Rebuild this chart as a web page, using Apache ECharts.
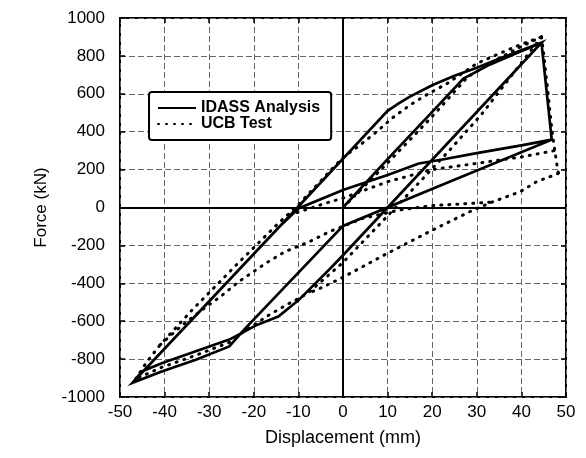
<!DOCTYPE html>
<html>
<head>
<meta charset="utf-8">
<script src="https://cdn.jsdelivr.net/npm/echarts@6/dist/echarts.min.js"></script>
<style>
  html, body { margin: 0; padding: 0; background: #fff; }
  #chart { width: 586px; height: 458px; }
</style>
</head>
<body>
<div id="chart"></div>
<script>
// Axis ranges and tick labels
const xTickLabels = [-50, -40, -30, -20, -10, 0, 10, 20, 30, 40, 50];
const yTickLabels = [-1000, -800, -600, -400, -200, 0, 200, 400, 600, 800, 1000];

// IDASS analysis: successive branches of the force-displacement path [mm, kN]
const idassFirstLoading = [[0, 0], [10, 255], [20, 505], [27, 680], [33, 755], [39, 815], [44.5, 870]];
const idassFirstUnloading = [[44.5, 870], [10, 0], [0, -252], [-3, -325], [-10, -490], [-14.5, -575],
  [-19.5, -622], [-25.5, -697], [-33, -759], [-40.5, -820], [-45, -864], [-47.2, -925]];
const idassReloading = [[-47.2, -925], [-10.2, 0], [10, 510], [12.5, 550], [15, 585], [20, 645],
  [25, 695], [30, 737], [35, 785], [40, 830], [44.5, 870]];
const idassStrengthDrop = [[44.5, 870], [46.8, 358]];
const idassSecondUnloading = [[46.8, 358], [19.4, 92], [0, -97], [-21.8, -635], [-25.5, -733],
  [-33, -803], [-40.5, -864], [-47.2, -925]];
const idassSecondReloading = [[-47.2, -925], [-14, -95], [-10, -5], [0, 92], [10, 172], [17, 232],
  [22, 252], [30, 287], [40, 328], [46.8, 358]];

// UCB test: measured branches [mm, kN]
const ucbFirstLoading = [[0, 0], [10, 235], [20, 480], [28, 690], [34, 775], [40, 850], [44.5, 900]];
const ucbFirstUnloading = [[44.5, 900], [31, 490], [24, 305], [12, 5], [0, -290], [-8, -455],
  [-12, -505], [-16.5, -566], [-19, -605], [-22, -650], [-25.5, -712], [-33, -780], [-40.5, -842], [-46.5, -905]];
const ucbReloading = [[-46.5, -905], [-44, -815], [-41, -725], [-34, -545], [-24, -305], [-15, -95],
  [-10, 15], [-5, 140], [0, 265], [3.3, 320], [7.1, 391], [11.2, 475], [15.3, 545], [19.4, 604],
  [23.2, 652], [27, 712], [30, 760], [35, 812], [40, 862], [44.5, 900]];
const ucbStrengthDrop = [[44.5, 900], [45, 810], [45.5, 700], [46, 600], [46.5, 480], [47, 380],
  [47.5, 300], [48, 220], [48.3, 180]];
const ucbSecondUnloading = [[48.3, 180], [43.4, 136], [39.7, 83], [33.7, 31], [29.2, -13], [19.4, -127],
  [9.3, -250], [-0.4, -373], [-4.5, -420], [-8, -455]];
const ucbUpperReloading = [[-12, -40], [-4, 22], [0, 50], [10, 136], [20, 200], [30, 233], [40, 267], [47.3, 300]];
const ucbLowerReloading = [[-41, -725], [-36, -620], [-31, -530], [-27.4, -469], [-23.3, -390],
  [-17.3, -294], [-13, -233], [-7.5, -180], [-3, -127], [4.5, -57], [12.7, -13], [20, 10], [33.3, 28]];

// The analysis is one continuous path; join its branches end to end
function chain(...branches) {
  const out = [];
  branches.forEach((b, i) => { out.push(...(i === 0 ? b : b.slice(1))); });
  return out;
}
const idassPath = chain(idassFirstLoading, idassFirstUnloading, idassReloading,
  idassStrengthDrop, idassSecondUnloading, idassSecondReloading);
const ucbBranches = [ucbFirstLoading, ucbFirstUnloading, ucbReloading, ucbStrengthDrop,
  ucbSecondUnloading, ucbUpperReloading, ucbLowerReloading];

const FONT = "'Liberation Sans', Arial, Helvetica, sans-serif";
const xStep = xTickLabels[1] - xTickLabels[0];
const yStep = yTickLabels[1] - yTickLabels[0];
const plainNumber = v => String(v);

const gridLine = { show: true, lineStyle: { color: '#666', width: 1, type: [6, 3] } };
const innerTick = { show: true, inside: true, length: 5, lineStyle: { color: '#000', width: 1.5 } };

const series = [{
  name: 'IDASS Analysis',
  type: 'line',
  data: idassPath,
  symbol: 'none',
  lineStyle: { color: '#000', width: 2.7, join: 'miter' },
  itemStyle: { color: '#000' },
  z: 4,
  markLine: {
    silent: true,
    symbol: 'none',
    label: { show: false },
    lineStyle: { color: '#000', width: 2, type: 'solid' },
    data: [{ xAxis: 0 }, { yAxis: 0 }]
  }
}];
ucbBranches.forEach(b => {
  series.push({
    name: 'UCB Test',
    type: 'line',
    data: b,
    symbol: 'none',
    lineStyle: { color: '#000', width: 3, type: [1, 7], cap: 'round' },
    itemStyle: { color: '#000' },
    z: 3
  });
});

const chart = echarts.init(document.getElementById('chart'), null, { renderer: 'canvas' });
chart.setOption({
  animation: false,
  backgroundColor: '#fff',
  textStyle: { fontFamily: FONT },
  grid: { left: 120, right: 20, top: 18, bottom: 61, show: true, borderColor: '#000', borderWidth: 2, backgroundColor: 'transparent' },
  legend: {
    data: ['IDASS Analysis', 'UCB Test'],
    orient: 'vertical',
    left: 149, top: 92,
    padding: [8, 11, 8, 8],
    itemGap: 0,
    itemWidth: 38,
    itemHeight: 14,
    itemStyle: { opacity: 0 },
    borderColor: '#000', borderWidth: 2, borderRadius: 3,
    backgroundColor: '#fff',
    textStyle: { fontSize: 16, fontWeight: 'bold', color: '#000', fontFamily: FONT, lineHeight: 14 }
  },
  xAxis: [{
    type: 'value',
    min: xTickLabels[0], max: xTickLabels[xTickLabels.length - 1], interval: xStep,
    position: 'bottom',
    axisLine: { show: false, onZero: false },
    axisTick: innerTick,
    axisLabel: { margin: 7, fontSize: 17, color: '#000', fontFamily: FONT, formatter: plainNumber },
    splitLine: gridLine,
    name: 'Displacement (mm)', nameLocation: 'middle', nameGap: 32,
    nameTextStyle: { fontSize: 18, color: '#000', fontFamily: FONT }
  }, {
    type: 'value',
    min: xTickLabels[0], max: xTickLabels[xTickLabels.length - 1], interval: xStep,
    position: 'top',
    axisLine: { show: false, onZero: false },
    axisTick: innerTick,
    axisLabel: { show: false },
    splitLine: { show: false }
  }],
  yAxis: [{
    type: 'value',
    min: yTickLabels[0], max: yTickLabels[yTickLabels.length - 1], interval: yStep,
    position: 'left',
    axisLine: { show: false, onZero: false },
    axisTick: innerTick,
    axisLabel: { margin: 15, fontSize: 17, color: '#000', fontFamily: FONT, formatter: plainNumber },
    splitLine: gridLine,
    name: 'Force (kN)', nameLocation: 'middle', nameGap: 70, nameRotate: 90,
    nameTextStyle: { fontSize: 17, color: '#000', fontFamily: FONT }
  }, {
    type: 'value',
    min: yTickLabels[0], max: yTickLabels[yTickLabels.length - 1], interval: yStep,
    position: 'right',
    axisLine: { show: false, onZero: false },
    axisTick: innerTick,
    axisLabel: { show: false },
    splitLine: { show: false }
  }],
  series: series
});
</script>
</body>
</html>
